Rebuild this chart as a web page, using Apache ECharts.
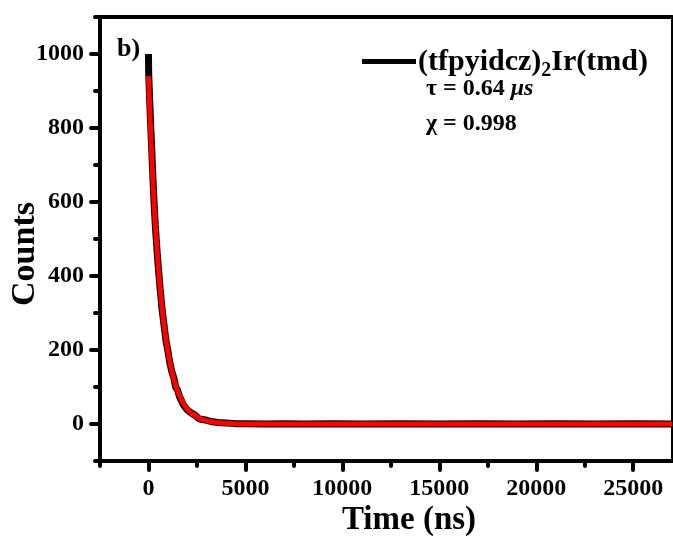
<!DOCTYPE html>
<html><head><meta charset="utf-8">
<script src="https://cdn.jsdelivr.net/npm/echarts@6/dist/echarts.min.js"></script>
<style>html,body{margin:0;padding:0;background:#fff}#c{width:673px;height:541px}</style>
</head><body><div id="c"></div>
<script>
const timeData = [0, 10, 40, 80, 120, 160, 200, 250, 300, 350, 400, 450, 500, 600, 700, 800, 900, 1000, 1100, 1200, 1300, 1400, 1500, 1600, 1700, 1800, 1900, 2000, 2200, 2400, 2600, 2800, 3000, 3300, 3600, 4000, 4500, 5000, 6000, 7000, 8000, 9500, 11000, 13000, 15000, 17000, 19000, 21000, 23000, 25000, 27000];
const countsData = [1000, 950, 905, 852, 800, 752, 700, 640, 585, 540, 500, 462, 428, 366, 310, 268, 226, 198, 166, 142, 126, 100, 92, 74, 70, 52, 50, 38, 30, 24, 14, 12, 10, 6, 4, 3, 1, 1, 0, 1, 0, 1, 0, 1, 0, 1, 0, 1, 0, 1, 0];
// Fit curve (red)
const timeFit = [0, 100, 200, 300, 400, 500, 600, 700, 800, 900, 1000, 1200, 1400, 1600, 1800, 2000, 2250, 2500, 2750, 3000, 3500, 4000, 5000, 10000, 15000, 20000, 27000];
const countsFit = [940, 804, 688, 588, 503, 430, 368, 315, 269, 230, 197, 144, 105, 77, 56, 41, 28, 19, 13, 9, 4, 2, 0, 0, 0, 0, 0];
// Tick positions
const xMajorTicks = [0, 5000, 10000, 15000, 20000, 25000];
const xMinorTicks = [-2500, 2500, 7500, 12500, 17500, 22500];
const yMajorTicks = [0, 200, 400, 600, 800, 1000];
const yMinorTicks = [-100, 100, 300, 500, 700, 900, 1100];
const seriesName = 'data';

const F = '"Liberation Serif","Times New Roman",serif';
const chart = echarts.init(document.getElementById('c'));
const tick = (vals, len) => ({show: true, customValues: vals, length: len, inside: false, lineStyle: {color: '#000', width: 4, cap: 'round'}});
const lbl = {fontFamily: F, fontWeight: 'bold', fontSize: 24, color: '#000', formatter: v => String(v)};
const line = w => ({show: true, onZero: false, lineStyle: {color: '#000', width: w}});
const noLine = {show: false, onZero: false};
chart.setOption({
  animation: false,
  backgroundColor: '#fff',
  grid: {left: 100, right: 1, top: 17, bottom: 80, containLabel: false, outerBoundsMode: 'none'},
  legend: {
    data: [{name: seriesName, icon: 'rect'}], left: 362, top: 59, padding: 0,
    itemWidth: 54, itemHeight: 5,
    itemStyle: {color: '#000'},
    formatter: () => '',
    textStyle: {fontSize: 1}
  },
  xAxis: [
    {type: 'value', min: -2500, max: 27000, position: 'bottom',
     axisLine: line(4),
     axisTick: tick(xMajorTicks, 9),
     axisLabel: Object.assign({customValues: xMajorTicks, margin: 16}, lbl),
     splitLine: {show: false},
     name: 'Time (ns)', nameLocation: 'middle', nameGap: 43, nameMoveOverlap: false,
     nameTextStyle: {fontFamily: F, fontWeight: 'bold', fontSize: 33, color: '#000', padding: [0, 0, 0, 46]}},
    {type: 'value', min: -2500, max: 27000, position: 'bottom',
     axisLine: noLine, axisTick: tick(xMinorTicks, 5),
     axisLabel: {show: false}, splitLine: {show: false}},
    {type: 'value', min: -2500, max: 27000, position: 'top',
     axisLine: line(4),
     axisTick: {show: false}, axisLabel: {show: false}, splitLine: {show: false}}
  ],
  yAxis: [
    {type: 'value', min: -100, max: 1100, position: 'left',
     axisLine: line(4),
     axisTick: tick(yMajorTicks, 9),
     axisLabel: Object.assign({customValues: yMajorTicks, margin: 16}, lbl),
     splitLine: {show: false},
     name: 'Counts', nameLocation: 'middle', nameGap: 58, nameMoveOverlap: false,
     nameTextStyle: {fontFamily: F, fontWeight: 'bold', fontSize: 34, color: '#000', padding: [0, 30, 0, 0]}},
    {type: 'value', min: -100, max: 1100, position: 'left',
     axisLine: noLine, axisTick: tick(yMinorTicks, 5),
     axisLabel: {show: false}, splitLine: {show: false}},
    {type: 'value', min: -100, max: 1100, position: 'right',
     axisLine: line(3),
     axisTick: {show: false}, axisLabel: {show: false}, splitLine: {show: false}}
  ],
  series: [
    {name: seriesName, type: 'line', xAxisIndex: 0, yAxisIndex: 0, symbol: 'none', showSymbol: false,
     lineStyle: {color: '#000', width: 7}, itemStyle: {color: '#000'}, z: 2,
     data: timeData.map((t, i) => [t, countsData[i]])},
    {name: 'fit', type: 'line', xAxisIndex: 0, yAxisIndex: 0, symbol: 'none', showSymbol: false, smooth: 0.3,
     lineStyle: {color: '#ff0000', width: 5}, itemStyle: {color: '#ff0000'}, z: 3,
     data: timeFit.map((t, i) => [t, countsFit[i]])}
  ],
  graphic: [
    {type: 'text', left: 117, top: 36, style: {text: 'b)', font: 'bold 26px ' + F, fill: '#000'}},
    {type: 'text', left: 418, top: 35, style: {text: '{a|(tfpyidcz)}{s|2}{a|Ir(tmd)}', fill: '#000',
      rich: {
        a: {fontFamily: F, fontWeight: 'bold', fontSize: 30, lineHeight: 34, verticalAlign: 'top'},
        s: {fontFamily: F, fontWeight: 'bold', fontSize: 20, lineHeight: 20, padding: [26, 0, 0, 0], verticalAlign: 'bottom'}
      }}},
    {type: 'text', left: 426, top: 77, style: {text: '{n|τ = 0.64 }{i|μs}', fill: '#000',
      rich: {n: {fontFamily: F, fontWeight: 'bold', fontSize: 24}, i: {fontFamily: F, fontWeight: 'bold', fontStyle: 'italic', fontSize: 24}}}},
    {type: 'text', left: 426, top: 112, style: {text: 'χ = 0.998', font: 'bold 24px ' + F, fill: '#000'}}
  ]
});
</script>
</body></html>
